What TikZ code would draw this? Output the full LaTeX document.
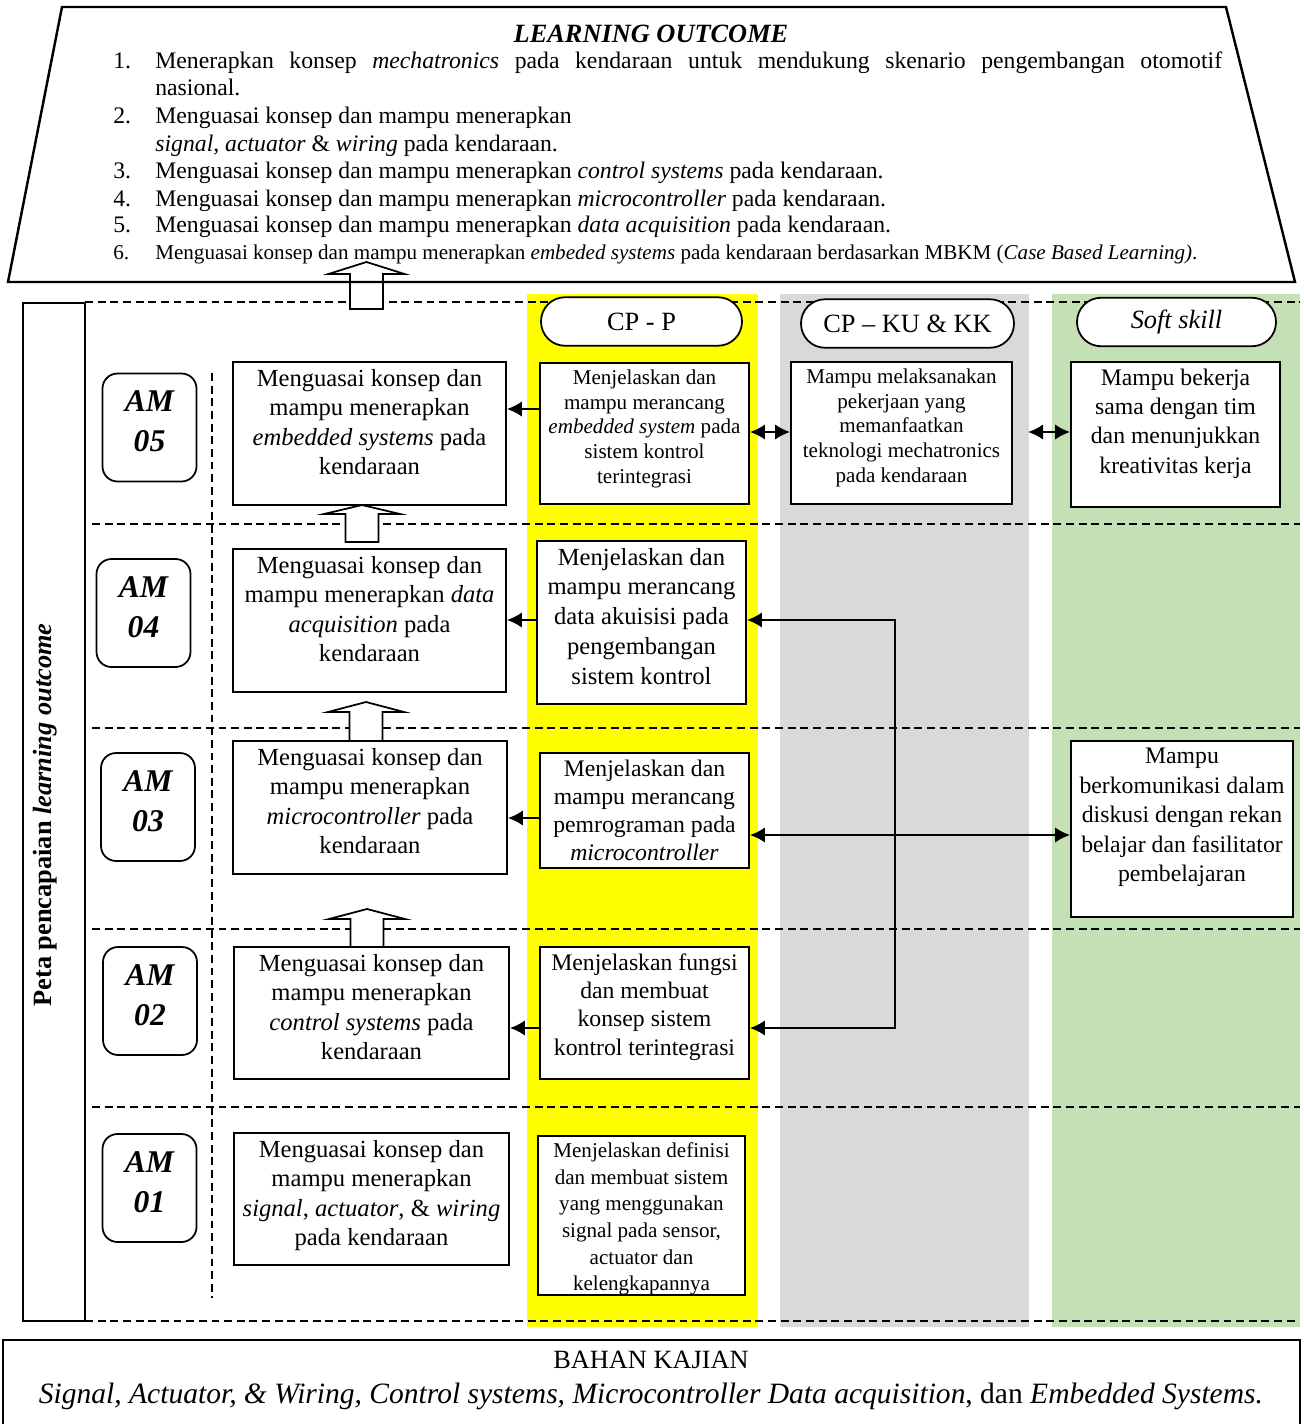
\documentclass[tikz,border=0pt]{standalone}
\usepackage{fontspec}
\setmainfont{Liberation Serif}
\usetikzlibrary{calc,positioning,arrows.meta}

\definecolor{cpyellow}{RGB}{255,255,0}
\definecolor{kugray}{RGB}{217,217,217}
\definecolor{softgreen}{RGB}{197,224,180}

% isi kotak, rata atas
\newcommand{\boxtext}[3]{\parbox[c][#2][t]{#1}{\centering\vspace*{4pt}#3}}

\tikzset{
	cell/.style={draw, line width=1pt, fill=white, inner sep=0pt},
	lobox/.style={cell, font=\fontsize{14}{16.8}\selectfont},
	ambox/.style={draw, line width=1pt, fill=white, rounded corners=0.3cm, minimum width=1.88cm, minimum height=2.16cm, align=center, font=\fontsize{18}{22.7}\selectfont\bfseries\itshape},
	pill/.style={draw, line width=1pt, fill=white, rounded corners=0.48cm, minimum height=0.97cm, font=\fontsize{15}{18}\selectfont},
	dashline/.style={line width=0.8pt, dash pattern=on 4.5pt off 2.7pt},
	blockarrow/.style={draw, line width=1pt, fill=white},
	conn/.style={line width=1.5pt},
	loitem/.style={anchor=base west, inner sep=0pt, font=\fontsize{13.5}{16}\selectfont}
}

\begin{document}
\begin{tikzpicture}[x=0.02cm, y=-0.02cm, >={Latex[length=3mm,width=3.1mm]}]
	\useasboundingbox (0,0) rectangle (1304,1424);

	% kolom warna
	\fill[cpyellow] (527,294) rectangle (758,1327);
	\fill[kugray] (780,294) rectangle (1029,1327);
	\fill[softgreen] (1052,294) rectangle (1300,1327);

	% garis putus-putus
	\draw[dashline] (85,302) -- (1300,302);
	\foreach \y in {524,728,929,1107}
		\draw[dashline] (92,\y) -- (1300,\y);
	\draw[dashline] (85,1321) -- (1296,1321);
	\draw[dashline] (212,373) -- (212,1298);

	% panah blok
	\foreach \cx/\yb/\yw/\yt in {366.5/309/274/262, 362/542/514/505, 366/741/712/702, 367/947/919/909}
		\draw[blockarrow] (\cx-16.5,\yb) -- (\cx-16.5,\yw) -- (\cx-38,\yw) -- (\cx,\yt)
			-- (\cx+38,\yw) -- (\cx+16.5,\yw) -- (\cx+16.5,\yb) -- cycle;

	% learning outcome
	\draw[line width=1.4pt] (62,7) -- (1226,7) -- (1295,282) -- (8,282) -- cycle;
	\node[anchor=base, font=\fontsize{15}{18}\selectfont\bfseries\itshape] (title) at (651,42) {LEARNING OUTCOME};
	\node[loitem] (n1) at (113,68) {1.};
	\node[loitem] (lo1) at (155,68) {\makebox[21.34cm][s]{Menerapkan konsep \textit{mechatronics} pada kendaraan untuk mendukung skenario pengembangan otomotif}};
	\node[loitem] (lo1b) at (155,95) {nasional.};
	\node[loitem] (n2) at (113,123) {2.};
	\node[loitem] (lo2) at (155,123) {Menguasai konsep dan mampu menerapkan};
	\node[loitem] (lo2b) at (155,151) {\textit{signal, actuator} \& \textit{wiring} pada kendaraan.};
	\foreach \n/\y/\t in {3/178/control systems, 4/206/microcontroller, 5/232/data acquisition}{
		\node[loitem] (n\n) at (113,\y) {\n.};
		\node[loitem] (lo\n) at (155,\y) {Menguasai konsep dan mampu menerapkan \textit{\t} pada kendaraan.};
	}
	\node[loitem, font=\fontsize{12}{14}\selectfont] (n6) at (113,259) {6.};
	\node[loitem, font=\fontsize{12}{14}\selectfont] (lo6) at (155,259) {Menguasai konsep dan mampu menerapkan \textit{embeded systems} pada kendaraan berdasarkan MBKM (\textit{Case Based Learning)}.};

	% peta pencapaian
	\node[draw, line width=1pt, minimum width=1.24cm, minimum height=20.36cm] (peta) at (54,812) {};
	\node[rotate=90, font=\fontsize{15}{18}\selectfont\bfseries] (petatext) at (45,815) {Peta pencapaian \textit{learning outcome}};

	\foreach \n/\x/\y in {05/149.5/427.5, 04/143.5/613, 03/148/807, 02/150/1001, 01/149.5/1188}
		\node[ambox] (am\n) at (\x,\y) {AM\\\n\rule[-7pt]{0pt}{0pt}};

	\node[lobox] (box5) at (369.5,433.5) {\boxtext{5.46cm}{2.86cm}{Menguasai konsep dan\\ mampu menerapkan\\ \textit{embedded systems} pada\\ kendaraan}};
	\node[lobox] (box4) at (369.5,620.5) {\boxtext{5.46cm}{2.86cm}{Menguasai konsep dan\\ mampu menerapkan \textit{data}\\ \textit{acquisition} pada\\ kendaraan}};
	\node[lobox] (box3) at (370,807.5) {\boxtext{5.48cm}{2.66cm}{Menguasai konsep dan\\ mampu menerapkan\\ \textit{microcontroller} pada\\ kendaraan}};
	\node[lobox] (box2) at (371.5,1013) {\boxtext{5.5cm}{2.64cm}{Menguasai konsep dan\\ mampu menerapkan\\ \textit{control systems} pada\\ kendaraan}};
	\node[lobox] (box1) at (371.5,1199) {\boxtext{5.5cm}{2.64cm}{Menguasai konsep dan\\ mampu menerapkan\\ \textit{signal}, \textit{actuator}, \& \textit{wiring}\\ pada kendaraan}};

	% CP - P
	\node[pill, minimum width=4.02cm] (cpp) at (641.5,321.5) {CP - P};
	\node[cell, font=\fontsize{12}{14}\selectfont] (cp5) at (644.5,433.5) {\boxtext{4.18cm}{2.82cm}{Menjelaskan dan\\ mampu merancang\\ \textit{embedded system} pada\\ sistem kontrol\\ terintegrasi}};
	\node[cell, font=\fontsize{14}{17}\selectfont] (cp4) at (641.5,622.5) {\boxtext{4.18cm}{3.26cm}{Menjelaskan dan\\ mampu merancang\\ data akuisisi pada\\ pengembangan\\ sistem kontrol}};
	\node[cell, font=\fontsize{13.5}{16}\selectfont] (cp3) at (644.5,810.5) {\boxtext{4.18cm}{2.3cm}{Menjelaskan dan\\ mampu merancang\\ pemrograman pada\\ \textit{microcontroller}}};
	\node[cell, font=\fontsize{13.5}{16}\selectfont] (cp2) at (644.5,1013) {\boxtext{4.18cm}{2.64cm}{Menjelaskan fungsi\\ dan membuat\\ konsep sistem\\ kontrol terintegrasi}};
	\node[cell, font=\fontsize{12}{15.1}\selectfont] (cp1) at (641.5,1215.5) {\boxtext{4.14cm}{3.18cm}{Menjelaskan definisi\\ dan membuat sistem\\ yang menggunakan\\ signal pada sensor,\\ actuator dan\\ kelengkapannya}};

	% CP - KU & KK
	\node[pill, minimum width=4.26cm] (cpku) at (907.5,323.5) {CP -- KU \& KK};
	\node[cell, font=\fontsize{12}{14}\selectfont] (ku) at (901.5,433) {\boxtext{4.42cm}{2.84cm}{Mampu melaksanakan\\ pekerjaan yang\\ memanfaatkan\\ teknologi mechatronics\\ pada kendaraan}};

	% soft skill
	\node[pill, minimum width=3.98cm] (cpsoft) at (1176.5,322) {\textit{Soft skill}};
	\node[cell, font=\fontsize{13.5}{16.6}\selectfont] (soft1) at (1175.5,434.5) {\boxtext{4.18cm}{2.9cm}{Mampu bekerja\\ sama dengan tim\\ dan menunjukkan\\ kreativitas kerja}};
	\node[cell, font=\fontsize{13.5}{16.8}\selectfont] (soft2) at (1182,829) {\boxtext{4.44cm}{3.52cm}{Mampu\\ berkomunikasi dalam\\ diskusi dengan rekan\\ belajar dan fasilitator\\ pembelajaran}};

	% panah
	\coordinate (a5) at (0,409);
	\coordinate (a4) at (0,620);
	\coordinate (a3) at (0,818);
	\coordinate (a2) at (0,1028);
	\draw[->, conn] (cp5.west |- a5) -- (box5.east |- a5);
	\draw[->, conn] (cp4.west |- a4) -- (box4.east |- a4);
	\draw[->, conn] (cp3.west |- a3) -- (box3.east |- a3);
	\draw[->, conn] (cp2.west |- a2) -- (box2.east |- a2);

	\coordinate (d5) at (0,432);
	\coordinate (kufree) at (1028,432);
	\draw[<->, conn] (cp5.east |- d5) -- (ku.west |- d5);
	\draw[<->, conn] (kufree) -- (soft1.west |- kufree);

	\coordinate (br4) at (895,620);
	\coordinate (br2) at (895,1028);
	\coordinate (d3) at (0,835);
	\draw[<->, conn] (cp4.east |- br4) -- (br4) -- (br2) -- (cp2.east |- br2);
	\draw[<->, conn] (cp3.east |- d3) -- (soft2.west |- d3);

	% bahan kajian
	\draw[line width=1pt] (3,1340) rectangle (1300,1440);
	\node[anchor=base, font=\fontsize{15}{18}\selectfont] (bahan) at (651,1368) {BAHAN KAJIAN};
	\node[anchor=base, font=\fontsize{16.8}{19}\selectfont] (topik) at (651,1403) {\textit{Signal, Actuator, \& Wiring, Control systems, Microcontroller Data acquisition}, dan \textit{Embedded Systems.}};
\end{tikzpicture}
\end{document}
